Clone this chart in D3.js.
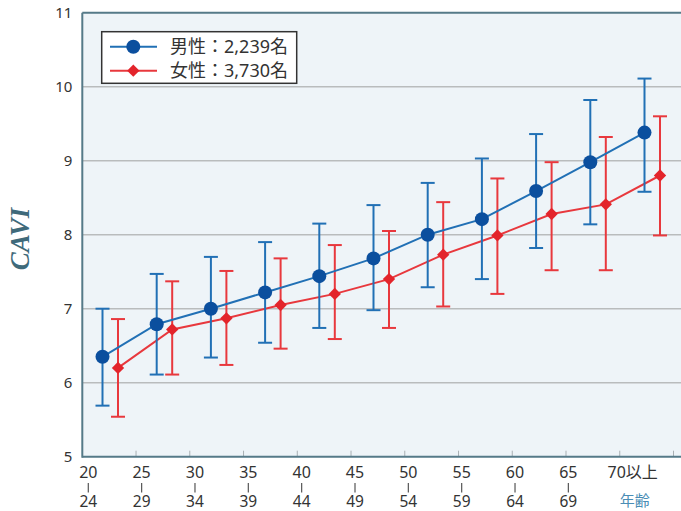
<!DOCTYPE html>
<html>
<head>
<meta charset="utf-8">
<script src="https://cdnjs.cloudflare.com/ajax/libs/d3/7.8.5/d3.min.js"></script>
<style>
    body { margin: 0; background: #fff; }
    svg { display: block; }
</style>
</head>
<body>
<div id="chart"></div>
<script>
const ageFrom = ['20', '25', '30', '35', '40', '45', '50', '55', '60', '65', '70以上'];
const ageTo = ['24', '29', '34', '39', '44', '49', '54', '59', '64', '69', ''];
const yTicks = [5, 6, 7, 8, 9, 10, 11];

const maleMean = [6.35, 6.79, 7.00, 7.22, 7.44, 7.68, 8.00, 8.21, 8.59, 8.98, 9.38];
const maleUpper = [7.00, 7.47, 7.70, 7.90, 8.15, 8.40, 8.70, 9.03, 9.36, 9.82, 10.11];
const maleLower = [5.69, 6.11, 6.34, 6.54, 6.74, 6.98, 7.29, 7.40, 7.82, 8.14, 8.58];

const femaleMean = [6.20, 6.72, 6.87, 7.05, 7.20, 7.40, 7.73, 7.99, 8.28, 8.41, 8.80];
const femaleUpper = [6.86, 7.37, 7.51, 7.68, 7.86, 8.05, 8.44, 8.76, 8.98, 9.32, 9.60];
const femaleLower = [5.54, 6.11, 6.24, 6.46, 6.59, 6.74, 7.03, 7.20, 7.52, 7.52, 7.99];

const legendLabels = ['男性：2,239名', '女性：3,730名'];

const W = 681;
const H = 511;
const plotLeft = 82.3;
const plotTop = 12.7;
const plotBottom = 456.7;
const FONT = "'Noto Sans', 'Noto Sans CJK JP', sans-serif";

const svg = d3.select('#chart').append('svg')
    .attr('width', W)
    .attr('height', H);

const y = d3.scaleLinear().domain([5, 11]).range([plotBottom, plotTop]);
// category bands (tick marks sit on band edges)
const xBand = d3.scaleBand().domain(ageFrom).range([plotLeft, 673.5]);
// point positions for each series
const xMale = d3.scalePoint().domain(ageFrom).range([102.5, 644.5]);
const femaleShift = 15.5;
// label positions
const xLabel = d3.scalePoint().domain(ageFrom).range([88.3, 621.7]);

const series = [
    { name: 'female', mean: femaleMean, upper: femaleUpper, lower: femaleLower,
        line: '#e8383d', mark: '#e3242b', dx: femaleShift },
    { name: 'male', mean: maleMean, upper: maleUpper, lower: maleLower,
        line: '#2170b5', mark: '#0b4f9e', dx: 0 },
];

// plot background
svg.append('rect')
    .attr('x', plotLeft)
    .attr('y', plotTop)
    .attr('width', W - plotLeft + 10)
    .attr('height', plotBottom - plotTop)
    .attr('fill', '#eef4f8');

// grid lines
svg.append('g').selectAll('line')
    .data(yTicks.filter((d) => d > 5 && d < 11))
    .enter()
    .append('line')
    .attr('x1', plotLeft)
    .attr('x2', W)
    .attr('y1', (d) => y(d))
    .attr('y2', (d) => y(d))
    .attr('stroke', '#b9bcbd')
    .attr('stroke-width', 1.5);

// inner x ticks
const tickPos = ageFrom.map((d) => xBand(d)).concat([xBand.range()[1]]);
svg.append('g').selectAll('line')
    .data(tickPos.slice(1))
    .enter()
    .append('line')
    .attr('x1', (d) => d)
    .attr('x2', (d) => d)
    .attr('y1', plotBottom)
    .attr('y2', plotBottom - 6)
    .attr('stroke', '#a9b0b4')
    .attr('stroke-width', 1);

// frame
const frame = svg.append('g')
    .attr('stroke', '#557a88')
    .attr('stroke-width', 2)
    .attr('fill', 'none');
frame.append('line').attr('x1', plotLeft).attr('x2', plotLeft).attr('y1', plotTop).attr('y2', plotBottom + 1);
frame.append('line').attr('x1', plotLeft).attr('x2', W).attr('y1', plotTop).attr('y2', plotTop);
frame.append('line').attr('x1', plotLeft).attr('x2', W).attr('y1', plotBottom).attr('y2', plotBottom);

// y axis labels
const yAxis = svg.append('g')
    .attr('transform', 'translate(' + plotLeft + ',0)')
    .call(d3.axisLeft(y).tickValues(yTicks).tickSize(0).tickPadding(10).tickFormat(d3.format('d')));
yAxis.select('.domain').remove();
yAxis.selectAll('text')
    .attr('font-family', FONT)
    .attr('font-size', 15)
    .attr('fill', '#333');

// x labels
const xLab = svg.append('g')
    .attr('font-family', FONT)
    .attr('font-size', 16)
    .attr('fill', '#333')
    .attr('text-anchor', 'middle');
ageFrom.forEach(function (d, i) {
    const cx = xLabel(d) + (i === ageFrom.length - 1 ? 11 : 0);
    xLab.append('text')
        .attr('x', cx)
        .attr('y', 477.5)
        .text(d);
    if (ageTo[i]) {
        xLab.append('line')
            .attr('x1', xLabel(d))
            .attr('x2', xLabel(d))
            .attr('y1', 483)
            .attr('y2', 492.5)
            .attr('stroke', '#555')
            .attr('stroke-width', 1.2);
        xLab.append('text')
            .attr('x', xLabel(d))
            .attr('y', 506.5)
            .attr('font-size', 15.5)
            .text(ageTo[i]);
    }
});
svg.append('text')
    .attr('x', xLabel(ageFrom[ageFrom.length - 1]) + 13)
    .attr('y', 505.5)
    .attr('text-anchor', 'middle')
    .attr('font-family', "'Noto Sans CJK JP', sans-serif")
    .attr('font-size', 15)
    .attr('fill', '#4a8db5')
    .text('年齢');

// y title
svg.append('text')
    .attr('transform', 'translate(28.5,239) rotate(-90)')
    .attr('text-anchor', 'middle')
    .attr('font-family', "'Liberation Serif', serif")
    .attr('font-style', 'italic')
    .attr('font-weight', 'bold')
    .attr('font-size', 27)
    .attr('fill', '#3f6a7a')
    .text('CAVI');

const diamond = d3.symbol().type(d3.symbolSquare).size(76);

function drawSeries(s) {
    const g = svg.append('g').attr('class', s.name);
    const px = (i) => xMale(ageFrom[i]) + s.dx;

    // error bars
    const eb = g.append('g')
        .attr('stroke', s.line)
        .attr('stroke-width', 2)
        .attr('fill', 'none');
    ageFrom.forEach(function (d, i) {
        eb.append('line')
            .attr('x1', px(i)).attr('x2', px(i))
            .attr('y1', y(s.lower[i])).attr('y2', y(s.upper[i]));
        [s.lower[i], s.upper[i]].forEach(function (v) {
            eb.append('line')
                .attr('x1', px(i) - 7).attr('x2', px(i) + 7)
                .attr('y1', y(v)).attr('y2', y(v));
        });
    });

    // mean line
    const line = d3.line()
        .x((d, i) => px(i))
        .y((d) => y(d));
    g.append('path')
        .datum(s.mean)
        .attr('d', line)
        .attr('fill', 'none')
        .attr('stroke', s.line)
        .attr('stroke-width', 2);

    // markers
    if (s.name === 'male') {
        g.selectAll('circle')
            .data(s.mean)
            .enter()
            .append('circle')
            .attr('cx', (d, i) => px(i))
            .attr('cy', (d) => y(d))
            .attr('r', 7)
            .attr('fill', s.mark);
    } else {
        g.selectAll('path.mk')
            .data(s.mean)
            .enter()
            .append('path')
            .attr('class', 'mk')
            .attr('d', diamond)
            .attr('transform', (d, i) => 'translate(' + px(i) + ',' + y(d) + ') rotate(45)')
            .attr('fill', s.mark);
    }
}

series.forEach(drawSeries);

// legend
const legend = svg.append('g');
legend.append('rect')
    .attr('x', 101.7)
    .attr('y', 31.7)
    .attr('width', 195)
    .attr('height', 51.6)
    .attr('fill', '#fff')
    .attr('stroke', '#333')
    .attr('stroke-width', 1.5);
const legendItems = [series[1], series[0]];
legendItems.forEach(function (s, i) {
    const ly = 46.7 + i * 24;
    legend.append('line')
        .attr('x1', 110).attr('x2', 157)
        .attr('y1', ly).attr('y2', ly)
        .attr('stroke', s.line)
        .attr('stroke-width', 2);
    if (s.name === 'male') {
        legend.append('circle')
            .attr('cx', 133.3).attr('cy', ly).attr('r', 7)
            .attr('fill', s.mark);
    } else {
        legend.append('path')
            .attr('d', diamond)
            .attr('transform', 'translate(133.3,' + ly + ') rotate(45)')
            .attr('fill', s.mark);
    }
    legend.append('text')
        .attr('x', 170)
        .attr('y', ly + 6.5)
        .attr('font-family', FONT)
        .attr('font-size', 18)
        .attr('fill', '#333')
        .text(legendLabels[i]);
});
</script>
</body>
</html>
